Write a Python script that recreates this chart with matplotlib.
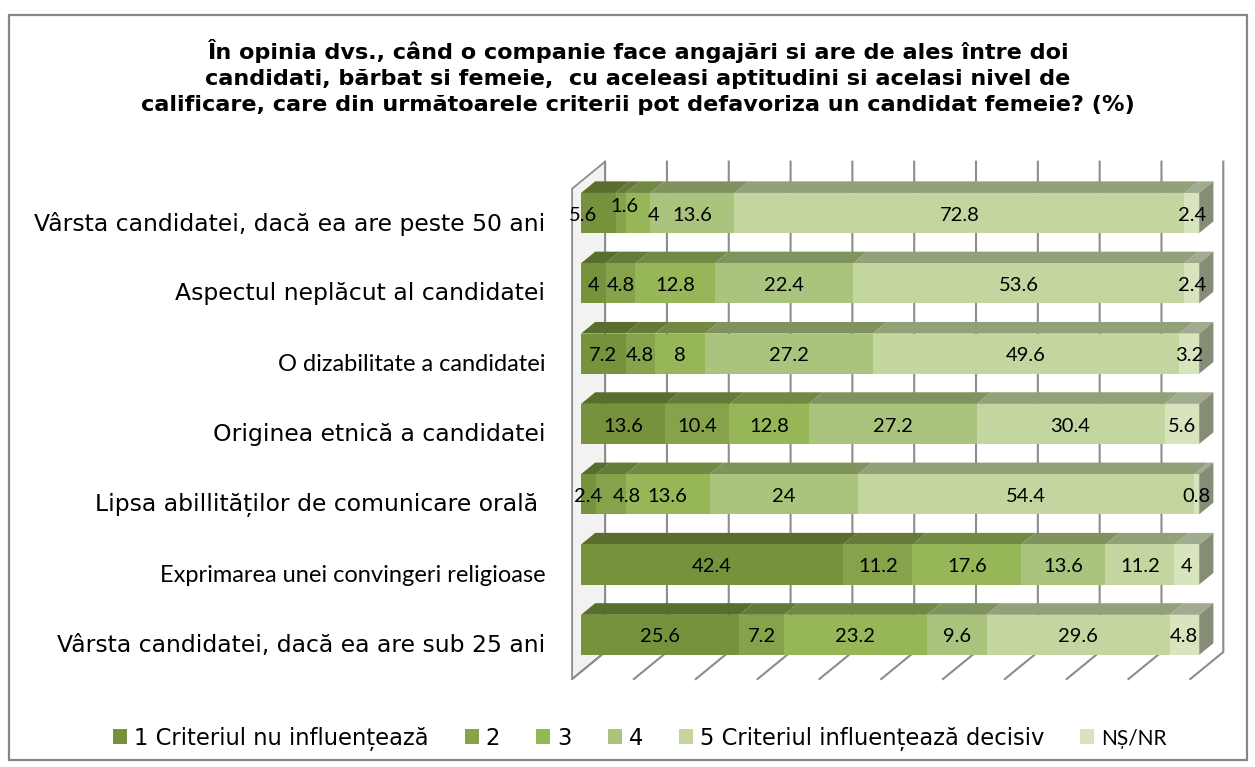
import numpy as np
import matplotlib.pyplot as plt
from matplotlib.colors import to_rgb
from matplotlib.patches import Polygon, Patch, Rectangle

# data (%), rows from top to bottom
criteria = [
    "Vârsta candidatei, dacă ea are peste 50 ani",
    "Aspectul neplăcut al candidatei",
    "O dizabilitate a candidatei",
    "Originea etnică a candidatei",
    "Lipsa abillităților de comunicare orală ",
    "Exprimarea unei convingeri religioase",
    "Vârsta candidatei, dacă ea are sub 25 ani",
]
series_names = ["1 Criteriul nu influențează", "2", "3", "4",
                "5 Criteriul influențează decisiv", "NȘ/NR"]
s1 = [5.6, 4, 7.2, 13.6, 2.4, 42.4, 25.6]
s2 = [1.6, 4.8, 4.8, 10.4, 4.8, 11.2, 7.2]
s3 = [4, 12.8, 8, 12.8, 13.6, 17.6, 23.2]
s4 = [13.6, 22.4, 27.2, 27.2, 24, 13.6, 9.6]
s5 = [72.8, 53.6, 49.6, 30.4, 54.4, 11.2, 29.6]
ns_nr = [2.4, 2.4, 3.2, 5.6, 0.8, 4, 4.8]
ticks = np.arange(0, 101, 10)

colors = ["#76923C", "#86A24A", "#97B658", "#AAC47D", "#C3D6A0", "#D7E4BE"]
arial_like = "DejaVu Sans"
calibri_like = "Lato"

# small label nudges where segments are too narrow (x in %, y in rows)
nudge = {(0, 0): (-2.4, 0), (0, 1): (0.6, -0.12), (0, 2): (2.6, 0), (4, 1): (2.7, 0)}

fig = plt.figure(figsize=(12.55, 7.67), dpi=100)
W, H = 1255, 767

# outer frame
fig.patches.append(Rectangle((9 / W, 7 / H), 1238 / W, 745 / H, transform=fig.transFigure,
                             fill=False, edgecolor="#868686", linewidth=1.6))

fig.text(0.508, 0.9,
         "În opinia dvs., când o companie face angajări si are de ales între doi\n"
         "candidati, bărbat si femeie,  cu aceleasi aptitudini si acelasi nivel de\n"
         "calificare, care din următoarele criterii pot defavoriza un candidat femeie? (%)",
         ha="center", va="center", fontsize=16.1, fontweight="bold",
         family=arial_like, linespacing=1.38)

ax = fig.add_axes([560 / W, (767 - 700) / H, 680 / W, 550 / H])
ax.set_xlim(-3.4, 106.6)
ax.set_ylim(6.927, -0.896)
ax.axis("off")

# pseudo 3-D geometry
ddx, ddy = 5.34, -0.384     # full depth vector
tb = 0.27                  # depth of bar front face
tbk = 0.70                 # depth of bar back face
y_top, y_floor = -0.45, 6.525


def pt(x, y, t):
    return (x + (t - tb) * ddx, y + (t - tb) * ddy)


grid_c = "#8C8C8C"
# left wall
wall = [pt(0, y_top, 0), pt(0, y_top, 1), pt(0, y_floor, 1), pt(0, y_floor, 0)]
ax.add_patch(Polygon(wall, closed=True, facecolor="#F2F2F2", edgecolor=grid_c,
                     linewidth=1.3, zorder=1))
# gridlines on back wall + floor
for v in ticks:
    x0, y0 = pt(v, y_top, 1)
    x1, y1 = pt(v, y_floor, 1)
    x2, y2 = pt(v, y_floor, 0)
    ax.plot([x0, x1, x2], [y0, y1, y2], color=grid_c, linewidth=1.5, zorder=1,
            solid_joinstyle="miter")

# bars
data = np.array([s1, s2, s3, s4, s5, ns_nr])
rows = np.arange(len(criteria))
h = 0.57
ox, oy = (tbk - tb) * ddx, (tbk - tb) * ddy
lefts = np.zeros(len(criteria))
for k, vals in enumerate(data):
    front = np.array(to_rgb(colors[k]))
    top = front * 0.75
    ax.barh(rows, vals, left=lefts, height=h, color=colors[k], zorder=3)
    for i, (l, w) in enumerate(zip(lefts, vals)):
        yt = rows[i] - h / 2
        ax.add_patch(Polygon([(l, yt), (l + w, yt), (l + w + ox, yt + oy), (l + ox, yt + oy)],
                             closed=True, facecolor=top, edgecolor="none", zorder=2))
        nx, ny = nudge.get((i, k), (0, 0))
        ax.text(l + w / 2 + nx, rows[i] + 0.03 + ny, f"{w:g}", ha="center", va="center",
                fontsize=14.5, family=calibri_like, zorder=5)
        if k == len(data) - 1:
            side = front * 0.62
            xr = l + w
            ax.add_patch(Polygon([(xr, yt), (xr + ox, yt + oy), (xr + ox, yt + h + oy), (xr, yt + h)],
                                 closed=True, facecolor=side, edgecolor="none", zorder=2))
    lefts = lefts + vals

# category labels
for i, lab in enumerate(criteria):
    if i in (2, 5):
        fam, fs = calibri_like, 17
    else:
        fam, fs = arial_like, 16.9
    ax.text(-5.8, rows[i] + 0.15, lab, ha="right", va="center", fontsize=fs,
            family=fam, clip_on=False)

# legend
fs_leg = 16.3
sq = 14 / (fs_leg * 100 / 72)
handles = [Patch(facecolor=c, edgecolor="none") for c in colors]
leg = fig.legend(handles, series_names, loc="center", bbox_to_anchor=(0.51, 0.037), ncol=6,
                 frameon=False, handlelength=sq, handleheight=sq, handletextpad=0.3,
                 columnspacing=1.6, prop={"family": arial_like, "size": fs_leg})
leg.get_texts()[-1].set_fontfamily(calibri_like)
leg.get_texts()[-1].set_fontsize(15)

fig.savefig("out.png", dpi=100)
